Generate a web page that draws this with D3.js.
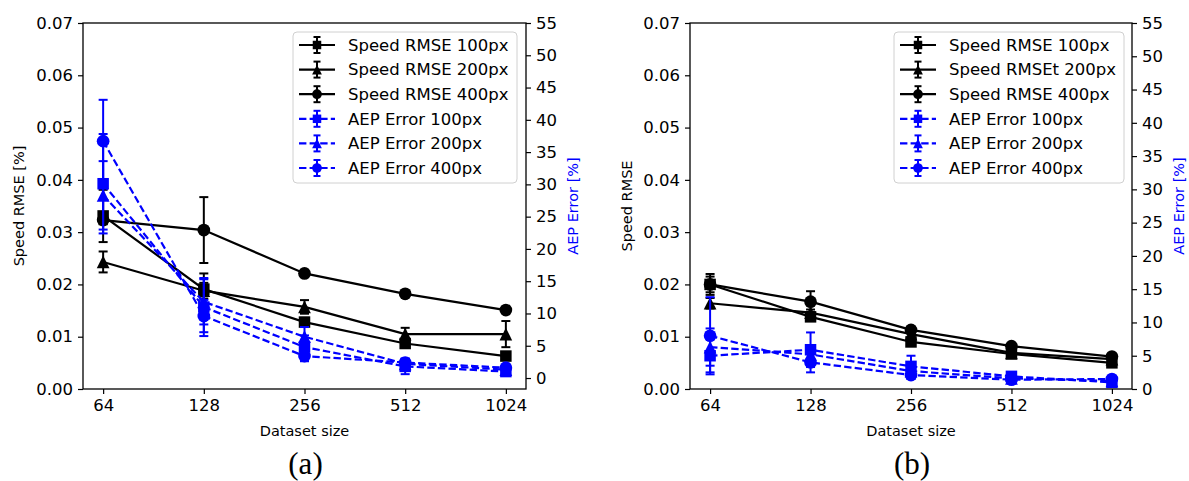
<!DOCTYPE html>
<html><head><meta charset="utf-8">
<script src="https://cdn.jsdelivr.net/npm/d3@7"></script>
<style>
body{margin:0;background:#fff}
svg{display:block}
text{font-family:"DejaVu Sans",sans-serif}
</style></head>
<body><svg id="c" width="1189" height="481"></svg>
<script>
// ---------- data ----------
const sizes = [64, 128, 256, 512, 1024];
const leftTicks = [0, 0.01, 0.02, 0.03, 0.04, 0.05, 0.06, 0.07];
const rightTicks = [0, 5, 10, 15, 20, 25, 30, 35, 40, 45, 50, 55];

// panel (a)
const speedA100 = [0.0331, 0.0191, 0.0128, 0.0087, 0.0063];
const speedA100Err = [0.005, 0.003, 0.0008, 0.0007, 0.0005];
const speedA200 = [0.0243, 0.0188, 0.0157, 0.0105, 0.0105];
const speedA200Err = [0.002, 0.0015, 0.0013, 0.0012, 0.0025];
const speedA400 = [0.0323, 0.0304, 0.0221, 0.0182, 0.0151];
const speedA400Err = [0.0008, 0.0063, 0.0007, 0.0004, 0.0004];
const aepA100 = [30.1, 11.0, 4.8, 1.8, 1.0];
const aepA100Err = [7.7, 4.5, 1.8, 1.2, 0.4];
const aepA200 = [28.3, 11.8, 6.4, 2.2, 1.3];
const aepA200Err = [5.3, 3.5, 1.5, 0.8, 0.5];
const aepA400 = [36.7, 9.6, 3.4, 2.4, 1.6];
const aepA400Err = [6.4, 2.5, 0.8, 0.5, 0.4];

// panel (b)
const speedB100 = [0.0200, 0.0138, 0.0090, 0.0067, 0.0050];
const speedB100Err = [0.0015, 0.0008, 0.0005, 0.0004, 0.0003];
const speedB200 = [0.0164, 0.0146, 0.0105, 0.0069, 0.0057];
const speedB200Err = [0.001, 0.0006, 0.0005, 0.0004, 0.0003];
const speedB400 = [0.0200, 0.0167, 0.0113, 0.0082, 0.0062];
const speedB400Err = [0.002, 0.002, 0.0006, 0.0004, 0.0003];
const aepB100 = [5.0, 5.9, 3.4, 1.9, 1.0];
const aepB100Err = [2.5, 2.6, 1.6, 0.6, 0.3];
const aepB200 = [6.3, 5.2, 2.7, 1.6, 1.2];
const aepB200Err = [2.8, 1.2, 0.8, 0.5, 0.3];
const aepB400 = [8.0, 4.0, 2.1, 1.4, 1.5];
const aepB400Err = [5.8, 1.5, 0.6, 0.4, 0.4];

const legendA = ["Speed RMSE 100px", "Speed RMSE 200px", "Speed RMSE 400px",
                 "AEP Error 100px", "AEP Error 200px", "AEP Error 400px"];
const legendB = ["Speed RMSE 100px", "Speed RMSEt 200px", "Speed RMSE 400px",
                 "AEP Error 100px", "AEP Error 200px", "AEP Error 400px"];

// ---------- drawing ----------
const svg = d3.select("#c");
const BLUE = "#0000ff";

function marker(g, shape, x, y, s, color) {
  if (shape === "square") {
    g.append("rect").attr("x", x - s/2).attr("y", y - s/2).attr("width", s).attr("height", s).attr("fill", color);
  } else if (shape === "circle") {
    g.append("circle").attr("cx", x).attr("cy", y).attr("r", s/2 + 0.6).attr("fill", color);
  } else {
    const h = s/2 + 0.6;
    g.append("path").attr("d", `M${x},${y-h}L${x-h},${y+h}L${x+h},${y+h}Z`).attr("fill", color);
  }
}

function panel(cfg) {
  const top = 23, bottom = 389;
  const x = d3.scaleLog().base(2)
    .domain([64 / Math.pow(2, 0.2), 1024 * Math.pow(2, 0.2)])
    .range([cfg.x0, cfg.x1]);
  const yL = d3.scaleLinear().domain([0, 0.07]).range([bottom, top]);
  const yR = d3.scaleLinear().domain(cfg.rightDomain).range([bottom, top]);
  const g = svg.append("g");

  const series = [
    {v: cfg.speed[0], e: cfg.speedErr[0], y: yL, c: "#000", dash: null, shape: "square"},
    {v: cfg.speed[1], e: cfg.speedErr[1], y: yL, c: "#000", dash: null, shape: "triangle"},
    {v: cfg.speed[2], e: cfg.speedErr[2], y: yL, c: "#000", dash: null, shape: "circle"},
    {v: cfg.aep[0], e: cfg.aepErr[0], y: yR, c: BLUE, dash: "7.4,3.2", shape: "square"},
    {v: cfg.aep[1], e: cfg.aepErr[1], y: yR, c: BLUE, dash: "7.4,3.2", shape: "triangle"},
    {v: cfg.aep[2], e: cfg.aepErr[2], y: yR, c: BLUE, dash: "7.4,3.2", shape: "circle"},
  ];

  series.forEach(s => {
    const sg = g.append("g");
    sizes.forEach((d, i) => {
      const px = x(d), y1 = s.y(s.v[i] - s.e[i]), y2 = s.y(s.v[i] + s.e[i]);
      sg.append("line").attr("x1", px).attr("x2", px).attr("y1", y1).attr("y2", y2)
        .attr("stroke", s.c).attr("stroke-width", 2);
      [y1, y2].forEach(yy => sg.append("line").attr("x1", px - 4.5).attr("x2", px + 4.5)
        .attr("y1", yy).attr("y2", yy).attr("stroke", s.c).attr("stroke-width", 2));
    });
    const line = d3.line().x((d, i) => x(sizes[i])).y(d => s.y(d));
    sg.append("path").attr("d", line(s.v)).attr("fill", "none").attr("stroke", s.c)
      .attr("stroke-width", 2.2).attr("stroke-dasharray", s.dash);
    sizes.forEach((d, i) => marker(sg, s.shape, x(d), s.y(s.v[i]), 11.5, s.c));
  });

  g.append("rect").attr("x", cfg.x0).attr("y", top).attr("width", cfg.x1 - cfg.x0)
    .attr("height", bottom - top).attr("fill", "none").attr("stroke", "#000").attr("stroke-width", 1.3);

  const fs = "16.5px";
  const ax = g.append("g").attr("transform", `translate(0,${bottom})`)
    .call(d3.axisBottom(x).tickValues(sizes).tickFormat(d3.format("d")).tickSizeOuter(0).tickSize(5).tickPadding(5));
  const al = g.append("g").attr("transform", `translate(${cfg.x0},0)`)
    .call(d3.axisLeft(yL).tickValues(leftTicks).tickFormat(d3.format(".2f")).tickSizeOuter(0).tickSize(5).tickPadding(5));
  const ar = g.append("g").attr("transform", `translate(${cfg.x1},0)`)
    .call(d3.axisRight(yR).tickValues(rightTicks).tickFormat(d3.format("d")).tickSizeOuter(0).tickSize(5).tickPadding(5));
  [ax, al, ar].forEach(a => {
    a.select(".domain").remove();
    a.selectAll(".tick line").attr("stroke", "#000").attr("stroke-width", 1.2);
    a.selectAll(".tick text").attr("font-size", fs).style("fill", "#000");
  });

  g.append("text").attr("x", (cfg.x0 + cfg.x1) / 2).attr("y", 436).attr("text-anchor", "middle")
    .attr("font-size", "14.5px").style("fill", "#000").text("Dataset size");
  g.append("text").attr("transform", `translate(${cfg.leftLabelX},${(top + bottom) / 2}) rotate(-90)`)
    .attr("text-anchor", "middle").attr("dy", "0.35em").attr("font-size", "14.5px")
    .style("fill", "#000").text(cfg.leftLabel);
  g.append("text").attr("transform", `translate(${cfg.rightLabelX},${(top + bottom) / 2}) rotate(-90)`)
    .attr("text-anchor", "middle").attr("dy", "0.35em").attr("font-size", "14.5px")
    .style("fill", BLUE).text("AEP Error [%]");

  g.append("text").attr("x", (cfg.x0 + cfg.x1) / 2 + 1).attr("y", 474).attr("text-anchor", "middle")
    .style("font-family", "'Liberation Serif', 'Times New Roman', serif").style("fill", "#000")
    .attr("font-size", "31px").text(cfg.caption);

  const lg = g.append("g");
  const lx = cfg.legendX, ly = 32, lw = cfg.legendW, lh = 151;
  lg.append("rect").attr("x", lx).attr("y", ly).attr("width", lw).attr("height", lh).attr("rx", 4)
    .attr("fill", "#fff").attr("fill-opacity", 0.85).attr("stroke", "#d0d0d0").attr("stroke-width", 1);
  cfg.legend.forEach((lab, i) => {
    const s = series[i];
    const cy = 45 + i * 24.6;
    const hx0 = lx + 6, hx1 = lx + 42, mx = lx + 24;
    lg.append("line").attr("x1", hx0).attr("x2", hx1).attr("y1", cy).attr("y2", cy)
      .attr("stroke", s.c).attr("stroke-width", 2.2).attr("stroke-dasharray", s.dash);
    lg.append("line").attr("x1", mx).attr("x2", mx).attr("y1", cy - 8).attr("y2", cy + 8)
      .attr("stroke", s.c).attr("stroke-width", 2);
    [cy - 8, cy + 8].forEach(yy => lg.append("line").attr("x1", mx - 3.5).attr("x2", mx + 3.5)
      .attr("y1", yy).attr("y2", yy).attr("stroke", s.c).attr("stroke-width", 2));
    marker(lg, s.shape, mx, cy, 8.5, s.c);
    lg.append("text").attr("x", lx + 55).attr("y", cy).attr("dy", "0.35em")
      .attr("font-size", fs).style("fill", "#000").text(lab);
  });
}

panel({
  x0: 83, x1: 526, rightDomain: [-1.7, 55],
  speed: [speedA100, speedA200, speedA400], speedErr: [speedA100Err, speedA200Err, speedA400Err],
  aep: [aepA100, aepA200, aepA400], aepErr: [aepA100Err, aepA200Err, aepA400Err],
  legend: legendA, legendX: 293, legendW: 224,
  leftLabel: "Speed RMSE [%]", leftLabelX: 19, rightLabelX: 573, caption: "(a)"
});
panel({
  x0: 690, x1: 1132, rightDomain: [0, 55],
  speed: [speedB100, speedB200, speedB400], speedErr: [speedB100Err, speedB200Err, speedB400Err],
  aep: [aepB100, aepB200, aepB400], aepErr: [aepB100Err, aepB200Err, aepB400Err],
  legend: legendB, legendX: 894, legendW: 230,
  leftLabel: "Speed RMSE", leftLabelX: 627, rightLabelX: 1179, caption: "(b)"
});
</script></body></html>
